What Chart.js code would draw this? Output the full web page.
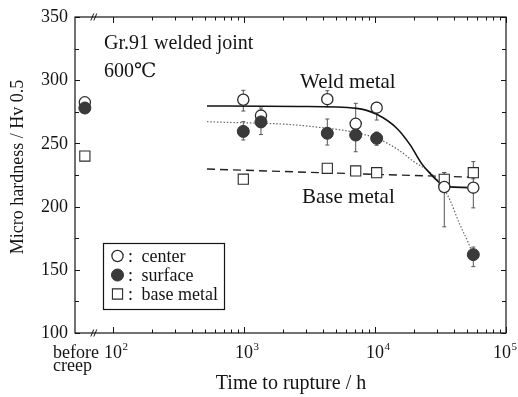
<!DOCTYPE html>
<html><head><meta charset="utf-8">
<script src="https://cdn.jsdelivr.net/npm/chart.js@4.4.0/dist/chart.umd.min.js"></script>
<style>html,body{margin:0;padding:0;background:#fff;} #wrap{width:518px;height:397px;position:relative;}</style>
</head><body><div id="wrap"><canvas id="c" width="518" height="397"></canvas></div>
<script>
const SERIF = "'Liberation Serif','DejaVu Serif','Times New Roman',serif";

// axis ranges and tick labels
const xMinTime = 51.3, xMaxTime = 100000;
const xLabelDecades = [2, 3, 4, 5];
const yMin = 100, yMax = 350, yStep = 25, yLabelStep = 50;
const beforeCreepLabel = ['before', 'creep'];
const xTitle = 'Time to rupture / h';
const yTitle = 'Micro hardness / Hv 0.5';
const legendLabels = ['center', 'surface', 'base metal'];

// "before creep" points are plotted at this time position; axis break drawn at breakTime
const beforeCreepTime = 61;
const breakTime = 72;

// measured hardness: center (open circles)
const centerTime     = [61, 988, 1348, 4325, 7124, 10300, 33800, 56300];
const centerHv       = [282.5, 284.5, 272, 285, 265.5, 278.3, 215.5, 215];
const centerErrLow   = [null, 275.6, 265, 279, 258, 268.5, 184, 199];
const centerErrHigh  = [null, 292, 278, 291.7, 281.7, 282.5, 227, 231];

// surface (filled circles)
const surfaceTime    = [61, 988, 1348, 4325, 7124, 10300, 56300];
const surfaceHv      = [278, 259.5, 267, 258, 256.6, 254, 162];
const surfaceErrLow  = [null, 252.7, 257, 248.7, 243.4, 248.5, 152.5];
const surfaceErrHigh = [null, 267.2, 275, 269.3, 266, 259, 168];

// base metal (open squares)
const baseTime       = [61, 988, 4325, 7124, 10300, 33800, 56300];
const baseHv         = [240, 221.7, 230.3, 228.2, 226.8, 221.6, 226.8];
const baseErrLow     = [null, null, null, null, null, 218, 222];
const baseErrHigh    = [null, null, null, null, null, 226.8, 235.6];

// trend curves
const weldCurveTime    = [522, 2676, 7250, 10300, 14650, 18500, 22700, 26300, 30430, 33800, 56300];
const weldCurveHv      = [279.6, 279.2, 277.7, 273, 262, 249, 234, 226.3, 219.7, 216, 215];
const surfaceCurveTime = [522, 3190, 10300, 15520, 19500, 26300, 33630, 37370, 44560, 51270, 56270];
const surfaceCurveHv   = [267.2, 263.5, 254, 244, 236, 227, 214, 205, 185.5, 172, 161.7];
const baseCurveTime    = [522, 10000, 56300];
const baseCurveHv      = [229.7, 225.5, 223.3];

const zip = (xs, ys) => xs.map((x, i) => ({x, y: ys[i]}));

const INK = '#141414';
const MARK = '#2a2a2a';

const centerStyle  = {pointStyle: 'circle', radius: 5.6, borderWidth: 1.3, borderColor: MARK, backgroundColor: '#ffffff'};
const surfaceStyle = {pointStyle: 'circle', radius: 6, borderWidth: 1, borderColor: '#333', backgroundColor: '#3a3a3a'};
const baseStyle    = {pointStyle: 'rect', radius: 7.2, borderWidth: 1.1, borderColor: MARK, backgroundColor: '#ffffff'};

function pointDs(label, data, st, order) {
  return {
    label, data, showLine: false, order,
    pointStyle: st.pointStyle, pointRadius: st.radius, pointBorderWidth: st.borderWidth,
    pointBorderColor: st.borderColor, pointBackgroundColor: st.backgroundColor,
    pointHoverRadius: st.radius
  };
}
function curveDs(label, data, color, width, dash, order, monotone) {
  return {
    label, data, showLine: true, order, pointRadius: 0, borderColor: color,
    borderWidth: width, borderDash: dash, fill: false,
    cubicInterpolationMode: monotone ? 'monotone' : 'default', tension: 0
  };
}

const errorSets = [
  {t: baseTime, lo: baseErrLow, hi: baseErrHigh},
  {t: centerTime, lo: centerErrLow, hi: centerErrHigh},
  {t: surfaceTime, lo: surfaceErrLow, hi: surfaceErrHigh}
];

const decor = {
  id: 'decor',
  beforeDatasetsDraw(chart) {
    const ctx = chart.ctx, xs = chart.scales.x, ys = chart.scales.y;
    ctx.save();
    ctx.strokeStyle = '#555';
    ctx.lineWidth = 1;
    errorSets.forEach(s => {
      s.t.forEach((t, i) => {
        if (s.lo[i] == null) return;
        const x = xs.getPixelForValue(t);
        const y1 = ys.getPixelForValue(s.lo[i]), y2 = ys.getPixelForValue(s.hi[i]);
        ctx.beginPath();
        ctx.moveTo(x, y1); ctx.lineTo(x, y2);
        ctx.moveTo(x - 2, y1); ctx.lineTo(x + 2, y1);
        ctx.moveTo(x - 2, y2); ctx.lineTo(x + 2, y2);
        ctx.stroke();
      });
    });
    ctx.restore();
  },
  afterDraw(chart) {
    const ctx = chart.ctx, xs = chart.scales.x, ys = chart.scales.y;
    const a = chart.chartArea;
    ctx.save();
    // frame
    ctx.strokeStyle = INK;
    ctx.lineWidth = 1.2;
    ctx.strokeRect(a.left, a.top, a.right - a.left, a.bottom - a.top);
    // y ticks (inward, both sides)
    ctx.lineWidth = 1;
    ctx.beginPath();
    for (let v = yMin; v <= yMax; v += yStep) {
      const y = Math.round(ys.getPixelForValue(v)) + 0.5;
      const len = (v % yLabelStep === 0) ? 5 : 4;
      ctx.moveTo(a.left, y); ctx.lineTo(a.left + len, y);
      ctx.moveTo(a.right, y); ctx.lineTo(a.right - len, y);
    }
    // x ticks (inward, top and bottom)
    xLabelDecades.forEach(d => {
      for (let m = 1; m <= 9; m++) {
        const v = m * Math.pow(10, d);
        if (v > xMaxTime) break;
        const x = Math.round(xs.getPixelForValue(v)) + 0.5;
        const len = m === 1 ? 6 : 3.5;
        ctx.moveTo(x, a.bottom); ctx.lineTo(x, a.bottom - len);
        ctx.moveTo(x, a.top); ctx.lineTo(x, a.top + len);
      }
    });
    ctx.stroke();
    // axis break marks
    const bx = xs.getPixelForValue(breakTime);
    ctx.lineWidth = 1;
    ctx.beginPath();
    [a.top, a.bottom].forEach(y => {
      ctx.moveTo(bx - 3.5, y + 3.5); ctx.lineTo(bx - 0.5, y - 3.5);
      ctx.moveTo(bx - 0.5, y + 3.5); ctx.lineTo(bx + 2.5, y - 3.5);
    });
    ctx.stroke();

    ctx.fillStyle = INK;
    ctx.textBaseline = 'alphabetic';
    // x tick labels 10^n
    const W = chart.width;
    xLabelDecades.forEach(d => {
      let x = xs.getPixelForValue(Math.pow(10, d));
      ctx.font = '18px ' + SERIF;
      const w10 = ctx.measureText('10').width;
      ctx.font = '11px ' + SERIF;
      const wExp = ctx.measureText(String(d)).width;
      let left = x - w10 / 2;
      if (left + w10 + 0.5 + wExp > W - 1) left = W - 1 - (w10 + 0.5 + wExp);
      ctx.font = '18px ' + SERIF;
      ctx.textAlign = 'left';
      ctx.fillText('10', left, 358);
      ctx.font = '11px ' + SERIF;
      ctx.fillText(String(d), left + w10 + 0.5, 350);
    });
    // y tick labels
    ctx.font = '18px ' + SERIF;
    ctx.textAlign = 'right';
    ctx.textBaseline = 'middle';
    for (let v = yMin; v <= yMax; v += yLabelStep) {
      ctx.fillText(String(v), a.left - 7, ys.getPixelForValue(v) + 0.5);
    }
    ctx.textBaseline = 'alphabetic';
    // before creep label
    ctx.textAlign = 'left';
    ctx.fillText(beforeCreepLabel[0], 53, 358);
    ctx.fillText(beforeCreepLabel[1], 53, 370.5);
    // axis titles
    ctx.font = '20px ' + SERIF;
    ctx.textAlign = 'center';
    ctx.fillText(xTitle, 291, 389);
    ctx.save();
    ctx.translate(18, 167);
    ctx.rotate(-Math.PI / 2);
    ctx.font = '18px ' + SERIF;
    ctx.textBaseline = 'middle';
    ctx.fillText(yTitle, 0, 0);
    ctx.restore();
    // annotations
    ctx.textAlign = 'left';
    ctx.textBaseline = 'alphabetic';
    ctx.font = '20px ' + SERIF;
    ctx.fillText('Gr.91 welded joint', 104, 49);
    ctx.fillText('600\u2103', 104, 77);
    ctx.font = '21px ' + SERIF;
    ctx.fillText('Weld metal', 300, 88);
    ctx.fillText('Base metal', 302, 202.5);
    // legend
    ctx.lineWidth = 1.2;
    ctx.strokeStyle = INK;
    ctx.strokeRect(103.5, 243.5, 121, 66);
    const styles = [centerStyle, surfaceStyle, baseStyle];
    const rowY = [256, 275, 294];
    styles.forEach((st, i) => {
      ctx.fillStyle = st.backgroundColor;
      ctx.strokeStyle = st.borderColor;
      ctx.lineWidth = st.borderWidth;
      ctx.beginPath();
      if (st.pointStyle === 'circle') ctx.arc(117.5, rowY[i], st.radius, 0, Math.PI * 2);
      else { const h = st.radius * Math.SQRT1_2; ctx.rect(117.5 - h, rowY[i] - h, 2 * h, 2 * h); }
      ctx.fill(); ctx.stroke();
      ctx.fillStyle = INK;
      ctx.font = '18px ' + SERIF;
      ctx.fillText(':', 128, rowY[i] + 6);
      ctx.fillText(legendLabels[i], 141.5, rowY[i] + 6);
    });
    ctx.restore();
  }
};

new Chart(document.getElementById('c'), {
  type: 'scatter',
  data: {
    datasets: [
      pointDs('surface', zip(surfaceTime, surfaceHv), surfaceStyle, 0),
      pointDs('center', zip(centerTime, centerHv), centerStyle, 1),
      pointDs('base metal', zip(baseTime, baseHv), baseStyle, 2),
      curveDs('weld fit', zip(weldCurveTime, weldCurveHv), '#111', 1.6, [], 10, true),
      curveDs('surface fit', zip(surfaceCurveTime, surfaceCurveHv), '#666', 1.2, [1.5, 1.8], 11, true),
      curveDs('base fit', zip(baseCurveTime, baseCurveHv), '#222', 1.4, [8, 5], 12, false)
    ]
  },
  options: {
    responsive: false,
    animation: false,
    devicePixelRatio: 1,
    layout: {padding: {top: 17, right: 12, left: 0, bottom: 0}},
    plugins: {legend: {display: false}, tooltip: {enabled: false}},
    scales: {
      x: {
        type: 'logarithmic', min: xMinTime, max: xMaxTime,
        grid: {display: false}, border: {display: false},
        ticks: {display: false},
        afterFit: s => { s.height = 64; }
      },
      y: {
        type: 'linear', min: yMin, max: yMax,
        grid: {display: false}, border: {display: false},
        ticks: {display: false, stepSize: yStep},
        afterFit: s => { s.width = 75; }
      }
    }
  },
  plugins: [decor]
});
</script>
</body></html>
